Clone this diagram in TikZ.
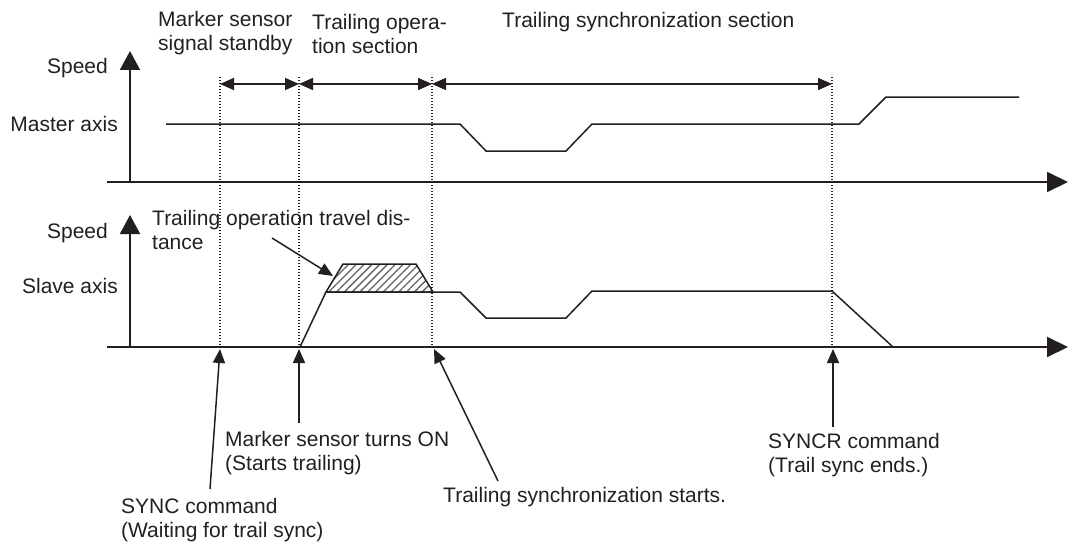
\documentclass[tikz,border=0pt]{standalone}
\usepackage{fontspec}
\setmainfont{Liberation Sans}
\usetikzlibrary{arrows.meta,patterns.meta}
\definecolor{ink}{RGB}{35,31,32}
\begin{document}
\begin{tikzpicture}[x=1pt,y=-1pt,
  lbl/.style={font=\fontsize{21}{24}\selectfont, text=ink, inner sep=0pt, align=left},
  axisline/.style={draw=ink, line width=2pt},
  taxis/.style={axisline, -{Triangle[length=21pt,width=20pt]}},
  vaxis/.style={axisline, -{Triangle[length=19pt,width=20pt]}},
  curve/.style={draw=ink, line width=1.5pt, line join=miter},
  guide/.style={draw=ink, line width=1.1pt, dash pattern=on 1.1pt off 1.9pt},
  span/.style={draw=ink, line width=1.5pt, {Triangle[length=14pt,width=12pt]}-{Triangle[length=14pt,width=12pt]}},
  callout/.style={draw=ink, line width=1.5pt, -{Triangle[length=14pt,width=12pt]}},
  hatch/.style={pattern={Lines[angle=45,distance=5.5pt,line width=1.3pt]}, pattern color=ink!70}
]
\useasboundingbox (0,0) rectangle (1081,543);

% ---------- texts ----------
\node[lbl, anchor=west] (secA) at (158,33.5) {Marker sensor\\signal standby};
\node[lbl, anchor=west] (secB) at (312,33.5) {Trailing opera-\\tion section};
\node[lbl, anchor=west] (secC) at (502,22) {Trailing synchronization section};
\node[lbl, anchor=east] (spd1) at (108,68) {Speed};
\node[lbl, anchor=east] (mst) at (118,124) {Master axis};
\node[lbl, anchor=east] (spd2) at (108,233) {Speed};
\node[lbl, anchor=east] (slv) at (118,286) {Slave axis};
\node[lbl, anchor=west] (dist) at (152,230) {Trailing operation travel dis-\\tance};
\node[lbl, anchor=west] (mon) at (225,453) {Marker sensor turns ON\\(Starts trailing)};
\node[lbl, anchor=west] (syncr) at (768,455) {SYNCR command\\(Trail sync ends.)};
\node[lbl, anchor=west] (tss) at (443,497) {Trailing synchronization starts.};
\node[lbl, anchor=west] (sync) at (121,520) {SYNC command\\(Waiting for trail sync)};

% ---------- coordinates ----------
\coordinate (o1) at (130,182);
\coordinate (v1) at (130,51);
\coordinate (h1s) at (107,182);
\coordinate (h1e) at (1068,182);
\coordinate (o2) at (130,347);
\coordinate (v2) at (130,215);
\coordinate (h2s) at (107,347);
\coordinate (h2e) at (1068,347);

\coordinate (g1t) at (220,77); \coordinate (g1b) at (220,348);
\coordinate (g2t) at (299,77); \coordinate (g2b) at (299,348);
\coordinate (g3t) at (432,77); \coordinate (g3b) at (432,348);
\coordinate (g4t) at (832,77); \coordinate (g4b) at (832,348);
\coordinate (s1) at (220,84);
\coordinate (s2) at (299,84);
\coordinate (s3) at (432,84);
\coordinate (s4) at (832,84);

% ---------- axes ----------
\draw[taxis] (h1s) -- (h1e);
\draw[vaxis] (o1) -- (v1);
\draw[taxis] (h2s) -- (h2e);
\draw[vaxis] (o2) -- (v2);

% ---------- guide lines ----------
\draw[guide] (g1t) -- (g1b);
\draw[guide] (g2t) -- (g2b);
\draw[guide] (g3t) -- (g3b);
\draw[guide] (g4t) -- (g4b);

% ---------- section spans ----------
\draw[span] (s1) -- (s2);
\draw[span] (s2) -- (s3);
\draw[span] (s3) -- (s4);

% ---------- master axis profile ----------
\draw[curve] (166,124) -- (460,124) -- (486,151) -- (566,151) -- (592,124)
  -- (859,124) -- (886,97) -- (1019,97);

% ---------- slave axis profile ----------
\draw[curve, hatch] (326,292) -- (343,264) -- (416,264) -- (433,292) -- cycle;
\draw[curve] (300,347) -- (326,292) -- (460,292) -- (486,318) -- (566,318)
  -- (592,291) -- (832,291) -- (893,347);

% ---------- callouts ----------
\coordinate (c1a) at (272,238); \coordinate (c1b) at (333,276);
\coordinate (c2a) at (210,489); \coordinate (c2b) at (220,349);
\coordinate (c3a) at (299,423); \coordinate (c3b) at (299,349);
\coordinate (c4a) at (498,481); \coordinate (c4b) at (434,349);
\coordinate (c5a) at (833,427); \coordinate (c5b) at (833,349);
\draw[callout] (c1a) -- (c1b);
\draw[callout] (c2a) -- (c2b);
\draw[callout] (c3a) -- (c3b);
\draw[callout] (c4a) -- (c4b);
\draw[callout] (c5a) -- (c5b);
\end{tikzpicture}
\end{document}
